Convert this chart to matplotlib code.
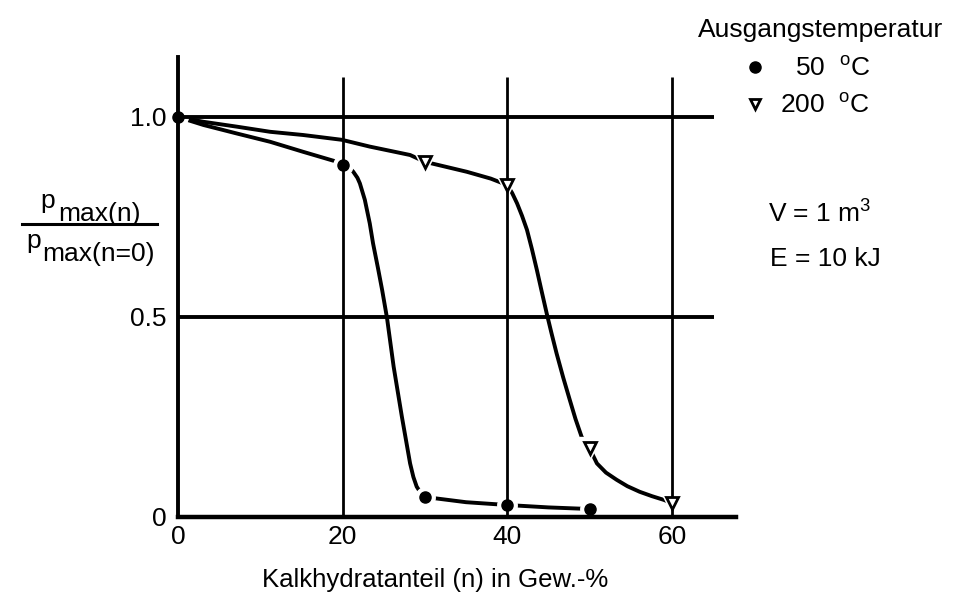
import matplotlib
matplotlib.use("Agg")
import matplotlib.pyplot as plt
from matplotlib.lines import Line2D

plt.rcParams['font.family'] = ['Liberation Sans', 'DejaVu Sans']
plt.rcParams['mathtext.fontset'] = 'custom'
plt.rcParams['mathtext.rm'] = 'Liberation Sans'
plt.rcParams['mathtext.it'] = 'Liberation Sans'

# measured points, Ausgangstemperatur 50 C and 200 C
n_50 = [0, 20, 30, 40, 50]
p_50 = [1.0, 0.88, 0.05, 0.03, 0.02]
n_200 = [30, 40, 50, 60]
p_200 = [0.888, 0.83, 0.172, 0.035]

# hand-drawn curves
curve_50_x = [0, 3.1, 7.1, 11.2, 15.2, 18.5, 20, 20.7, 21.3, 21.8, 22.1, 22.7,
              23.3, 23.7, 24.3, 24.8, 25.4, 26.2, 27.2, 28.2, 28.6, 29.0, 29.5,
              30, 35, 40, 45, 50]
curve_50_y = [1.0, 0.98, 0.959, 0.938, 0.913, 0.893, 0.884, 0.876, 0.863, 0.848,
              0.834, 0.793, 0.734, 0.684, 0.622, 0.568, 0.497, 0.376, 0.251,
              0.134, 0.1, 0.076, 0.06, 0.05, 0.037, 0.03, 0.024, 0.02]
curve_200_x = [0, 3.1, 7.1, 11.2, 15.2, 19.9, 23.3, 28.2, 30, 35.1, 38, 40,
               40.6, 41.2, 41.8, 42.4, 43.0, 43.6, 44.2, 44.8, 45.4, 46.0,
               46.8, 47.6, 48.3, 49.05, 50, 50.9, 52.0, 53.3, 54.6, 56.1,
               57.6, 59.0, 60]
curve_200_y = [1.0, 0.988, 0.976, 0.963, 0.955, 0.943, 0.926, 0.905, 0.888,
               0.863, 0.846, 0.83, 0.81, 0.784, 0.753, 0.718, 0.670, 0.618,
               0.563, 0.509, 0.458, 0.409, 0.349, 0.293, 0.245, 0.20, 0.172,
               0.134, 0.111, 0.093, 0.077, 0.063, 0.052, 0.043, 0.035]

grid_x = [20, 40, 60]
grid_y = [0.5, 1.0]
xticks = [0, 20, 40, 60]
yticks = [0, 0.5, 1.0]
ytick_labels = ['0', '0.5', '1.0']

W, H = 962, 594


def fx(px):
    return px / W


def fy(py):
    return 1 - py / H


fs = 19

fig = plt.figure(figsize=(9.62, 5.94), dpi=100)
ax = fig.add_axes([fx(178), fy(517), fx(736 - 178), (517 - 57) / H])
ax.set_xlim(0, 67.8)
ax.set_ylim(0, 1.15)

for s in ['top', 'right']:
    ax.spines[s].set_visible(False)
ax.spines['left'].set_linewidth(2.8)
ax.spines['bottom'].set_linewidth(3.2)

ax.plot(curve_50_x, curve_50_y, color='black', lw=2.8, zorder=2,
        solid_joinstyle='round')
ax.plot(curve_200_x, curve_200_y, color='black', lw=2.8, zorder=2,
        solid_joinstyle='round')

# white halos leave the little gaps in the curve around each marker
ax.plot(n_50, p_50, 'o', color='white', ms=14, zorder=2.5, clip_on=False)
ax.plot(n_200, p_200, 'v', color='white', ms=16, zorder=2.5, clip_on=False)

ax.vlines(grid_x, 0, 1.1, color='black', lw=2.0, zorder=2.7)
ax.hlines(grid_y, 0, 65.1, color='black', lw=2.8, zorder=2.7)

ax.plot(n_50, p_50, 'o', color='black', ms=8, zorder=3, clip_on=False)
ax.plot(n_200, p_200, 'v', mfc='white', mec='black', mew=2.0, ms=9,
        zorder=3, clip_on=False)

ax.set_xticks(xticks)
ax.set_xticklabels([str(v) for v in xticks], fontsize=fs)
ax.set_yticks(yticks)
ax.set_yticklabels(ytick_labels, fontsize=fs)
ax.tick_params(length=0)
ax.tick_params(axis='x', pad=6)
ax.tick_params(axis='y', pad=8)

ax.set_xlabel('Kalkhydratanteil (n) in Gew.-%', fontsize=18.5)
ax.xaxis.set_label_coords((435 - 178) / 558, -(592 - 517) / 460, transform=ax.transAxes)
ax.xaxis.label.set_va('bottom')

# y label as a stacked fraction
fig.text(fx(40), fy(208), 'p', fontsize=fs, va='baseline')
fig.text(fx(58), fy(221), 'max(n)', fontsize=fs, va='baseline')
fig.add_artist(Line2D([fx(22), fx(157)], [fy(224), fy(224)], color='black', lw=2.2))
fig.text(fx(26), fy(248), 'p', fontsize=fs, va='baseline')
fig.text(fx(42), fy(261), 'max(n=0)', fontsize=fs, va='baseline')

# legend block
fig.text(fx(698), fy(37), 'Ausgangstemperatur', fontsize=fs, va='baseline')
fig.add_artist(Line2D([fx(755)], [fy(67)], marker='o', color='black', ms=8))
fig.text(fx(870), fy(76), r'50  $^{\mathrm{o}}$C', fontsize=fs, va='baseline', ha='right')
fig.add_artist(Line2D([fx(755)], [fy(104)], marker='v', mfc='white', mec='black',
                      mew=2.0, ms=7))
fig.text(fx(870), fy(113), r'200  $^{\mathrm{o}}$C', fontsize=fs, va='baseline', ha='right')

fig.text(fx(768), fy(223), r'V = 1 m$^{3}$', fontsize=fs, va='baseline')
fig.text(fx(770), fy(266), 'E = 10 kJ', fontsize=fs, va='baseline')

fig.savefig('out.png', dpi=100)
